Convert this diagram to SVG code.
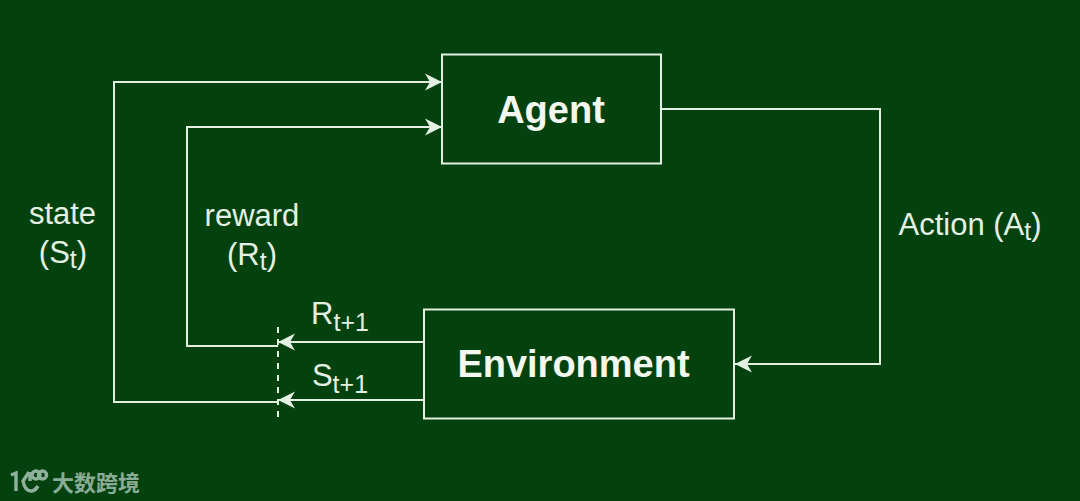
<svg xmlns="http://www.w3.org/2000/svg" width="1080" height="501" viewBox="0 0 1080 501">
<defs>
<style>
.line{fill:none;stroke:#e4f0e2;stroke-width:2}
.box{fill:none;stroke:#e4f0e2;stroke-width:2}
.t{font-family:"Liberation Sans",Arial,sans-serif;font-size:31px;fill:#e4f0e2;text-anchor:middle}
.s{font-size:25px}
.b{font-family:"Liberation Sans",Arial,sans-serif;font-size:38px;font-weight:bold;fill:#f2f7f0;text-anchor:middle}
.wm{fill:none;stroke:#8fb09a;stroke-width:3.500}
</style>
<marker id="arrow" markerUnits="userSpaceOnUse" markerWidth="20" markerHeight="20" refX="17" refY="9" orient="auto">
<path d="M0 0.500 L17 9 L0 17.500 L5 9 Z" fill="#e4f0e2"/>
</marker>
</defs>
<rect width="1080" height="501" fill="#03420f"/>
<g id="connectors">
<path class="line" d="M661 109 H880 V364 H735" marker-end="url(#arrow)"/>
<path class="line" d="M424 342 H278" marker-end="url(#arrow)"/>
<path class="line" d="M424 400 H278" marker-end="url(#arrow)"/>
<path class="line" d="M278 346 H187 V127 H442" marker-end="url(#arrow)"/>
<path class="line" d="M278 402 H114 V82 H442" marker-end="url(#arrow)"/>
<path class="line" stroke-dasharray="6 6" d="M278 327 V420"/>
</g>
<g id="agent">
<rect class="box" x="442" y="54.500" width="219" height="109"/>
<text class="b" x="551" y="123">Agent</text>
</g>
<g id="environment">
<rect class="box" x="424" y="309.500" width="310" height="109"/>
<text class="b" x="573.500" y="377">Environment</text>
</g>
<g id="labels">
<text class="t" x="62.500" y="224">state</text>
<text class="t" x="63" y="263">(S<tspan class="s" dy="5">t</tspan><tspan dy="-5">)</tspan></text>
<text class="t" x="252" y="226">reward</text>
<text class="t" x="252" y="265">(R<tspan class="s" dy="5">t</tspan><tspan dy="-5">)</tspan></text>
<text class="t" x="970" y="235">Action (A<tspan class="s" dy="5">t</tspan><tspan dy="-5">)</tspan></text>
<text class="t" x="340" y="324">R<tspan class="s" dy="7">t+1</tspan></text>
<text class="t" x="340" y="386">S<tspan class="s" dy="7">t+1</tspan></text>
</g>
<g id="watermark">
<path class="wm" d="M11 475 L16 473 V491 M29 472 L23 481 Q25 491 31 491 Q35 491 38 486"/>
<path class="wm" stroke-width="1.500" d="M30 472 V481"/>
<circle class="wm" cx="36" cy="475" r="4" stroke-width="1.800"/>
<circle class="wm" cx="42.500" cy="475" r="4" stroke-width="1.800"/>
<text x="52" y="491" font-family="'Noto Sans CJK SC',sans-serif" font-size="22" font-weight="700" fill="#8aab95">大数跨境</text>
</g>
</svg>
